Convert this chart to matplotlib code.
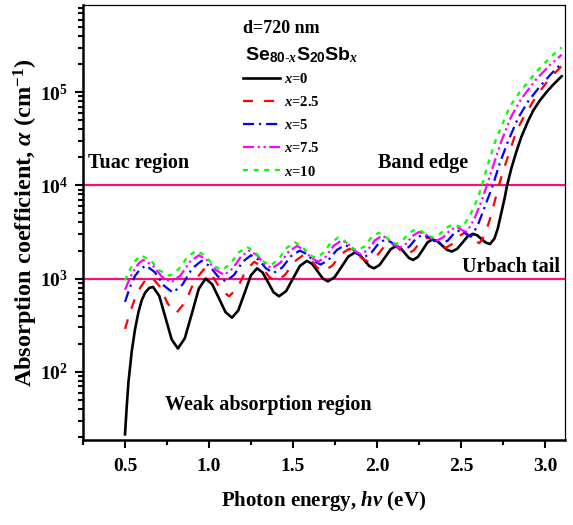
import numpy as np
import matplotlib
matplotlib.use("Agg")
import matplotlib.pyplot as plt
from matplotlib.ticker import FixedLocator, LogLocator, FuncFormatter, NullFormatter

plt.rcParams["font.family"] = ["Liberation Serif", "DejaVu Serif"]
plt.rcParams["font.weight"] = "bold"
plt.rcParams["axes.labelweight"] = "bold"
plt.rcParams["mathtext.fontset"] = "custom"
plt.rcParams["mathtext.rm"] = "Liberation Serif:bold"
plt.rcParams["mathtext.bf"] = "Liberation Serif:bold"
plt.rcParams["mathtext.it"] = "Liberation Serif:italic:bold"
plt.rcParams["mathtext.sf"] = "Liberation Sans:bold"

# photon energy (eV) and log10(alpha / cm^-1)
E_x0 = [0.500, 0.510, 0.520, 0.540, 0.560, 0.580, 0.600, 0.620, 0.645, 0.667,
        0.704, 0.741, 0.778, 0.815, 0.856, 0.898, 0.939, 0.980,
        1.019, 1.059, 1.098, 1.137, 1.174, 1.212, 1.249, 1.286,
        1.319, 1.352, 1.384, 1.417, 1.459, 1.500, 1.541, 1.583,
        1.614, 1.646, 1.677, 1.708, 1.748, 1.789, 1.829, 1.869,
        1.897, 1.926, 1.954, 1.982, 2.015, 2.049, 2.082, 2.115,
        2.140, 2.165, 2.190, 2.215, 2.244, 2.273, 2.301, 2.330,
        2.359, 2.388, 2.417, 2.446, 2.477, 2.509, 2.540, 2.571,
        2.597, 2.622, 2.648, 2.673,
        2.700, 2.720, 2.740, 2.760, 2.775, 2.800, 2.830, 2.860, 2.900, 2.930,
        2.970, 3.010, 3.050, 3.100]
L_x0 = [1.33, 1.62, 1.88, 2.22, 2.46, 2.64, 2.77, 2.85, 2.90, 2.91,
        2.814, 2.58, 2.346, 2.25, 2.36, 2.625, 2.89, 3.00,
        2.939, 2.79, 2.641, 2.58, 2.657, 2.845, 3.033, 3.11,
        3.066, 2.96, 2.854, 2.81, 2.865, 3.00, 3.135, 3.19,
        3.158, 3.08, 3.002, 2.97, 3.015, 3.125, 3.235, 3.28,
        3.255, 3.195, 3.135, 3.11, 3.145, 3.23, 3.315, 3.35,
        3.328, 3.275, 3.222, 3.20, 3.232, 3.31, 3.388, 3.42,
        3.401, 3.355, 3.309, 3.29, 3.318, 3.385, 3.452, 3.48,
        3.464, 3.425, 3.386, 3.37,
        3.43, 3.54, 3.70, 3.86, 4.00, 4.18, 4.36, 4.52, 4.69, 4.80,
        4.91, 5.00, 5.08, 5.17]

E_x2p5 = [0.50, 0.53, 0.56, 0.59, 0.62, 0.655,
          0.705, 0.755, 0.805, 0.86, 0.915, 0.97,
          1.02, 1.07, 1.12, 1.17, 1.22, 1.27,
          1.313, 1.357, 1.40, 1.453, 1.507, 1.56,
          1.602, 1.643, 1.685, 1.735, 1.785, 1.835,
          1.873, 1.912, 1.95, 1.993, 2.037, 2.08,
          2.113, 2.147, 2.18, 2.22, 2.26, 2.30,
          2.337, 2.373, 2.41, 2.447, 2.483, 2.52,
          2.55, 2.58, 2.61,
          2.64, 2.67, 2.70, 2.726, 2.76, 2.79, 2.83, 2.87, 2.95, 3.03, 3.10]
L_x2p5 = [2.46, 2.64, 2.79, 2.90, 2.98, 3.02,
          2.92, 2.73, 2.63, 2.75, 2.98, 3.10,
          3.03, 2.88, 2.81, 2.90, 3.09, 3.18,
          3.13, 3.02, 2.97, 3.04, 3.18, 3.25,
          3.21, 3.12, 3.08, 3.14, 3.26, 3.32,
          3.285, 3.215, 3.18, 3.23, 3.33, 3.38,
          3.35, 3.29, 3.26, 3.305, 3.395, 3.44,
          3.413, 3.357, 3.33, 3.37, 3.45, 3.49,
          3.463, 3.408, 3.38,
          3.46, 3.62, 3.82, 4.00, 4.20, 4.36, 4.58, 4.72, 4.96, 5.15, 5.28]

E_x5 = [0.50, 0.53, 0.56, 0.59, 0.625,
        0.678, 0.732, 0.785, 0.842, 0.898, 0.955,
        1.003, 1.052, 1.10, 1.15, 1.20, 1.25,
        1.295, 1.34, 1.385, 1.437, 1.488, 1.54,
        1.582, 1.623, 1.665, 1.713, 1.762, 1.81,
        1.848, 1.887, 1.925, 1.967, 2.008, 2.05,
        2.085, 2.12, 2.155, 2.193, 2.232, 2.27,
        2.308, 2.347, 2.385, 2.422, 2.458, 2.495,
        2.517, 2.538, 2.56,
        2.60, 2.64, 2.69, 2.73, 2.78, 2.84, 2.90, 2.97, 3.04, 3.10]
L_x5 = [2.75, 2.91, 3.03, 3.10, 3.14,
        3.068, 2.923, 2.85, 2.935, 3.105, 3.19,
        3.135, 3.025, 2.97, 3.04, 3.18, 3.25,
        3.203, 3.108, 3.06, 3.12, 3.24, 3.30,
        3.263, 3.188, 3.15, 3.203, 3.308, 3.36,
        3.328, 3.263, 3.23, 3.278, 3.373, 3.42,
        3.39, 3.33, 3.30, 3.343, 3.428, 3.47,
        3.445, 3.395, 3.37, 3.408, 3.483, 3.52,
        3.503, 3.468, 3.45,
        3.57, 3.76, 4.00, 4.23, 4.47, 4.72, 4.90, 5.06, 5.20, 5.31]

E_x7p5 = [0.50, 0.53, 0.56, 0.585, 0.61,
          0.665, 0.72, 0.775, 0.83, 0.885, 0.94,
          0.99, 1.04, 1.09, 1.14, 1.19, 1.24,
          1.285, 1.33, 1.375, 1.425, 1.475, 1.525,
          1.567, 1.608, 1.65, 1.697, 1.743, 1.79,
          1.828, 1.867, 1.905, 1.947, 1.988, 2.03,
          2.065, 2.10, 2.135, 2.173, 2.212, 2.25,
          2.287, 2.323, 2.36, 2.397, 2.433, 2.47,
          2.492, 2.513, 2.535,
          2.58, 2.62, 2.655, 2.69, 2.74, 2.80, 2.86, 2.95, 3.03, 3.10]
L_x7p5 = [2.88, 3.01, 3.11, 3.17, 3.20,
          3.14, 3.02, 2.96, 3.033, 3.178, 3.25,
          3.198, 3.093, 3.04, 3.105, 3.235, 3.30,
          3.253, 3.158, 3.11, 3.17, 3.29, 3.35,
          3.308, 3.223, 3.18, 3.238, 3.353, 3.41,
          3.373, 3.298, 3.26, 3.31, 3.41, 3.46,
          3.428, 3.363, 3.33, 3.373, 3.458, 3.50,
          3.478, 3.433, 3.41, 3.445, 3.515, 3.55,
          3.538, 3.513, 3.50,
          3.64, 3.82, 4.00, 4.20, 4.47, 4.74, 4.93, 5.14, 5.29, 5.40]

E_x10 = [0.50, 0.53, 0.56, 0.595,
         0.652, 0.708, 0.765, 0.818, 0.872, 0.925,
         0.975, 1.025, 1.075, 1.125, 1.175, 1.225,
         1.272, 1.318, 1.365, 1.413, 1.462, 1.51,
         1.552, 1.593, 1.635, 1.68, 1.725, 1.77,
         1.808, 1.847, 1.885, 1.927, 1.968, 2.01,
         2.045, 2.08, 2.115, 2.153, 2.192, 2.23,
         2.265, 2.30, 2.335, 2.373, 2.412, 2.45,
         2.47, 2.49, 2.51,
         2.56, 2.60, 2.625, 2.66, 2.71, 2.79, 2.85, 2.95, 3.03, 3.10]
L_x10 = [2.98, 3.10, 3.19, 3.25,
         3.195, 3.085, 3.03, 3.098, 3.233, 3.30,
         3.248, 3.143, 3.09, 3.153, 3.278, 3.34,
         3.29, 3.19, 3.14, 3.203, 3.328, 3.39,
         3.348, 3.263, 3.22, 3.275, 3.385, 3.44,
         3.405, 3.335, 3.30, 3.348, 3.443, 3.49,
         3.46, 3.40, 3.37, 3.41, 3.49, 3.53,
         3.508, 3.463, 3.44, 3.475, 3.545, 3.58,
         3.573, 3.558, 3.55,
         3.70, 3.86, 4.00, 4.22, 4.50, 4.84, 5.00, 5.22, 5.37, 5.48]

LABELS = ["0", "2.5", "5", "7.5", "10"]
BOUNDARIES = [1e3, 1e4]   # Urbach tail / band edge limits (cm^-1)

# ── styles ───────────────────────────────────────────────────────────────────
PINK = "#FF0A80"
styles = [
    dict(color="black", lw=1.9, ls="-"),
    dict(color="#FF0000", lw=1.6, ls=(0, (4.5, 5))),
    dict(color="#0000FF", lw=1.6, ls=(0, (5, 2.2, 1, 2.2))),
    dict(color="#FF00FF", lw=1.6, ls=(0, (5, 1.6, 1, 1.6, 1, 1.6))),
    dict(color="#00FF00", lw=1.6, ls=(0, (2.2, 2.6))),
]
series = [(E_x0, L_x0), (E_x2p5, L_x2p5), (E_x5, L_x5),
          (E_x7p5, L_x7p5), (E_x10, L_x10)]

fig = plt.figure(figsize=(5.73, 5.25), dpi=100)
ax = fig.add_axes([0.1449, 0.162, 0.8412, 0.8286])

for y in BOUNDARIES:
    ax.axhline(y, color=PINK, lw=1.6, zorder=1)

lines = []
for (e, l), st, lab in zip(series, styles, LABELS):
    ln, = ax.plot(e, 10 ** np.array(l), label=r"$x$=" + lab, zorder=3,
                  solid_joinstyle="round", **st)
    lines.append(ln)

ax.set_yscale("log")
ax.set_xlim(0.25, 3.12)
ax.set_ylim(18.6, 8.6e5)

ax.xaxis.set_major_locator(FixedLocator([0.5, 1.0, 1.5, 2.0, 2.5, 3.0]))
ax.xaxis.set_minor_locator(FixedLocator([0.25, 0.75, 1.25, 1.75, 2.25, 2.75]))
ax.xaxis.set_major_formatter(FuncFormatter(lambda v, p: f"{v:.1f}"))
ax.yaxis.set_major_locator(FixedLocator([1e2, 1e3, 1e4, 1e5]))
ax.yaxis.set_minor_locator(LogLocator(base=10, subs=np.arange(2, 10)))
ax.yaxis.set_minor_formatter(NullFormatter())
ax.yaxis.set_major_formatter(
    FuncFormatter(lambda v, p: r"$\mathrm{10^{%d}}$" % round(np.log10(v))))

ax.tick_params(which="both", direction="out", top=False, right=False,
               labelsize=14, width=1.5)
ax.tick_params(which="major", length=6)
ax.tick_params(which="minor", length=3.5)
ax.tick_params(axis="x", which="major", pad=7)
ax.tick_params(axis="y", which="major", pad=5)
for s in ["left", "bottom"]:
    ax.spines[s].set_linewidth(1.8)
for s in ["top", "right"]:
    ax.spines[s].set_linewidth(0.9)

ax.set_xlabel(r"Photon energy, $h\nu$ (eV)", fontsize=15, labelpad=10)
ax.set_ylabel(r"Absorption coefficient, $\alpha$ (cm$^{-1}$)", fontsize=17.5,
              labelpad=0)

# ── region labels ────────────────────────────────────────────────────────────
tk = dict(transform=ax.transAxes, fontsize=14.5, va="center", ha="left")
ax.text(0.010, 0.637, "Tuac region", **tk)
ax.text(0.612, 0.637, "Band edge", **tk)
ax.text(0.786, 0.398, "Urbach tail", **tk)
ax.text(0.170, 0.080, "Weak absorption region", **tk)

# ── legend block ─────────────────────────────────────────────────────────────
ax.text(0.332, 0.945, "d=720 nm", transform=ax.transAxes, fontsize=13,
        va="center", ha="left")
ax.text(0.336, 0.885,
        r"$\mathsf{Se}_{\mathsf{80\text{-}}x}\mathsf{S}_{\mathsf{20}}\mathsf{Sb}_{x}$",
        transform=ax.transAxes, fontsize=14, va="center", ha="left")
ax.legend(handles=lines, loc="upper left", bbox_to_anchor=(0.332, 0.845),
          frameon=False, fontsize=10.5, handlelength=2.5, handletextpad=0.3,
          labelspacing=0.62, borderpad=0, borderaxespad=0)

fig.savefig("out.png", dpi=100)
